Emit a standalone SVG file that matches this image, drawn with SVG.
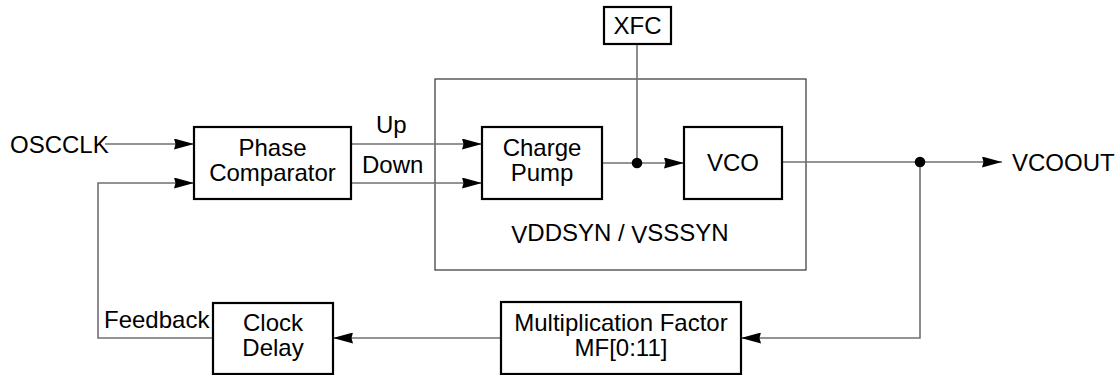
<svg xmlns="http://www.w3.org/2000/svg" width="1116" height="375" viewBox="0 0 1116 375">
<defs>
<style>
text{font-family:"Liberation Sans",Arial,sans-serif;font-size:24px;fill:#000}
.box{fill:#fff;stroke:#000;stroke-width:2.2}
.cont{fill:none;stroke:#333;stroke-width:1.2}
.wire{fill:none;stroke:#707070;stroke-width:1.6}
.c{text-anchor:middle}
</style>
<marker id="arr" markerUnits="userSpaceOnUse" viewBox="0 0 20 11" refX="20" refY="5.5" markerWidth="20" markerHeight="11" orient="auto">
<path d="M0,0 L20,5.5 L0,11 L1.5,5.5 z" fill="#000"/>
</marker>
</defs>
<rect width="1116" height="375" fill="#fff"/>
<g id="container">
<rect class="cont" x="435" y="79" width="371" height="191"/>
<text class="c" x="620" y="241"><tspan dy="2">V</tspan><tspan dy="-2">DDSYN / </tspan><tspan dy="2">V</tspan><tspan dy="-2">SSSYN</tspan></text>
</g>
<g id="connectors">
<line class="wire" x1="105" y1="144" x2="194" y2="144" marker-end="url(#arr)"/>
<polyline class="wire" points="213,338 98,338 98,183 194,183" marker-end="url(#arr)"/>
<line class="wire" x1="351" y1="144" x2="482" y2="144" marker-end="url(#arr)"/>
<line class="wire" x1="351" y1="183" x2="482" y2="183" marker-end="url(#arr)"/>
<line class="wire" x1="602" y1="163" x2="684" y2="163" marker-end="url(#arr)"/>
<line class="wire" x1="637" y1="44" x2="637" y2="163"/>
<line class="wire" x1="782" y1="162" x2="1002" y2="162" marker-end="url(#arr)"/>
<polyline class="wire" points="920,162 920,338 741,338" marker-end="url(#arr)"/>
<line class="wire" x1="501" y1="338" x2="333" y2="338" marker-end="url(#arr)"/>
<circle cx="637" cy="163" r="5.3" fill="#000"/>
<circle cx="920" cy="162" r="5.3" fill="#000"/>
</g>
<g id="osc"><text x="10" y="153">OSCCLK</text></g>
<g id="vcoout"><text x="1012" y="171">VCOOUT</text></g>
<g id="labels">
<text x="376" y="133">Up</text>
<text x="362" y="173">Down</text>
<text x="104" y="328">Feedback</text>
</g>
<g id="phase">
<rect class="box" x="194" y="127" width="157" height="72"/>
<text class="c" x="272.5" y="156">Phase</text>
<text class="c" x="272.5" y="181">Comparator</text>
</g>
<g id="pump">
<rect class="box" x="482" y="127" width="120" height="72"/>
<text class="c" x="542" y="156">Charge</text>
<text class="c" x="542" y="181">Pump</text>
</g>
<g id="vco">
<rect class="box" x="684" y="127" width="98" height="72"/>
<text class="c" x="733" y="171">VCO</text>
</g>
<g id="xfc">
<rect class="box" x="604" y="7" width="67" height="37"/>
<text class="c" x="637.5" y="34">XFC</text>
</g>
<g id="mf">
<rect class="box" x="501" y="302" width="240" height="72"/>
<text class="c" x="621" y="331">Multiplication Factor</text>
<text class="c" x="621" y="356">MF[0:11]</text>
</g>
<g id="delay">
<rect class="box" x="213" y="303" width="120" height="71"/>
<text class="c" x="273" y="331">Clock</text>
<text class="c" x="273" y="356">Delay</text>
</g>
</svg>
